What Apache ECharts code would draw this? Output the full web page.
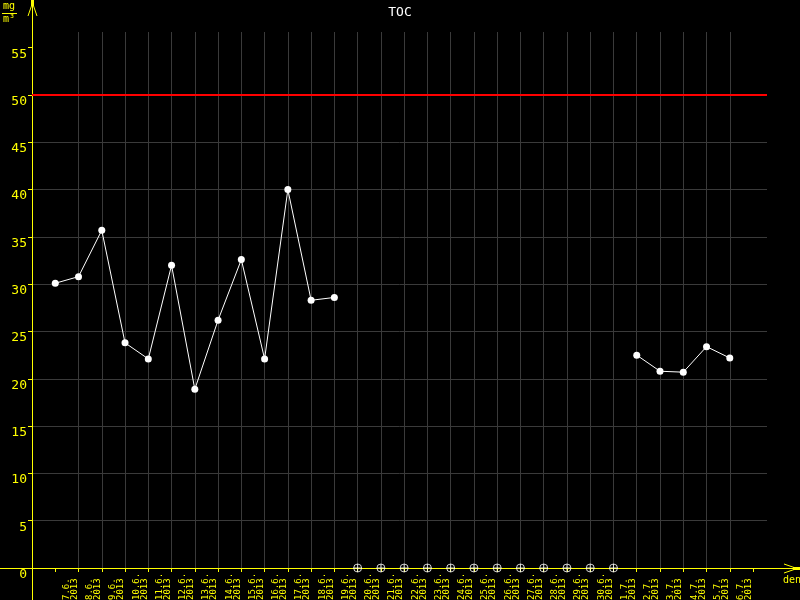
<!DOCTYPE html>
<html>
<head>
<meta charset="utf-8">
<script src="https://cdn.jsdelivr.net/npm/echarts@6/dist/echarts.min.js"></script>
<style>
  html, body {margin: 0; padding: 0; background: #000;}
  #chart {width: 800px; height: 600px;}
</style>
</head>
<body>
<div id="chart"></div>
<script>
// dates on the x axis (all 2013)
const days = ['7.6.', '8.6.', '9.6.', '10.6.', '11.6.', '12.6.', '13.6.', '14.6.', '15.6.', '16.6.',
  '17.6.', '18.6.', '19.6.', '20.6.', '21.6.', '22.6.', '23.6.', '24.6.', '25.6.', '26.6.',
  '27.6.', '28.6.', '29.6.', '30.6.', '1.7.', '2.7.', '3.7.', '4.7.', '5.7.', '6.7.'];
const year = '2013';
// TOC in mg/m3, null = no measurement
const toc = [30.1, 30.8, 35.7, 23.8, 22.1, 32.0, 18.9, 26.2, 32.6, 22.1, 40.0, 28.3, 28.6,
  null, null, null, null, null, null, null, null, null, null, null, null,
  22.5, 20.8, 20.7, 23.4, 22.2];
const limit = 50;
const yTicks = [0, 5, 10, 15, 20, 25, 30, 35, 40, 45, 50, 55];

const yellow = '#ffff00';
const mono = 'DejaVu Sans Mono';

const xTicks = days.map((d, i) => i + 1).concat([days.length + 1]);
const xLabelPos = days.map((d, i) => i + 1.65);
const lineData = toc.map((v, i) => [i + 1, v]);
const missing = toc.map((v, i) => v == null ? [i + 1, 0] : null).filter(d => d);

const chart = echarts.init(document.getElementById('chart'));
chart.setOption({
  backgroundColor: '#000',
  animation: false,
  title: {
    text: 'TOC',
    left: 'center',
    top: 1,
    textStyle: {color: '#fff', fontSize: 13, fontWeight: 'normal', fontFamily: mono}
  },
  grid: {left: 32, top: 32, right: 33, bottom: 32, outerBoundsMode: 'none'},
  xAxis: {
    type: 'value',
    min: 0,
    max: 31.6,
    interval: 1,
    axisLine: {show: true, lineStyle: {color: yellow, width: 1}},
    axisTick: {show: true, length: 4, customValues: xTicks, lineStyle: {color: yellow}},
    axisLabel: {
      customValues: xLabelPos,
      rotate: 90,
      align: 'left',
      verticalAlign: 'middle',
      margin: 32,
      color: yellow,
      fontSize: 9,
      lineHeight: 8,
      fontFamily: mono,
      formatter: v => days[Math.floor(v) - 1] + '\n' + year
    },
    splitLine: {show: true, showMinLine: false, showMaxLine: false, lineStyle: {color: '#3a3a3a', width: 1}}
  },
  yAxis: {
    type: 'value',
    min: 0,
    max: 56.66,
    interval: 5,
    axisLine: {show: true, lineStyle: {color: yellow, width: 1}},
    axisTick: {show: true, length: 4, customValues: yTicks, lineStyle: {color: yellow}},
    axisLabel: {
      customValues: yTicks,
      color: yellow,
      fontSize: 13,
      fontFamily: mono,
      margin: 5,
      verticalAlign: 'top'
    },
    splitLine: {show: true, showMinLine: false, showMaxLine: false, lineStyle: {color: '#3a3a3a', width: 1}}
  },
  series: [
    {
      type: 'line',
      data: lineData,
      connectNulls: false,
      symbol: 'circle',
      symbolSize: 7,
      lineStyle: {color: '#fff', width: 1},
      itemStyle: {color: '#fff'},
      z: 4,
      markLine: {
        silent: true,
        symbol: 'none',
        label: {show: false},
        lineStyle: {color: '#ff0000', width: 2, type: 'solid'},
        data: [{yAxis: limit}]
      }
    },
    {
      type: 'scatter',
      data: missing,
      symbol: 'path://M0,-4A4,4 0 1,1 0,4A4,4 0 1,1 0,-4ZM-4,0L4,0M0,-4L0,4',
      symbolSize: 8,
      itemStyle: {color: 'none', borderColor: '#fff', borderWidth: 1},
      z: 5
    }
  ],
  graphic: [
    // long axis lines with arrows
    {type: 'line', z: 3, shape: {x1: 32.5, y1: 0, x2: 32.5, y2: 600}, style: {stroke: yellow, lineWidth: 1}},
    {type: 'line', z: 3, shape: {x1: 0, y1: 568.5, x2: 797, y2: 568.5}, style: {stroke: yellow, lineWidth: 1}},
    {type: 'polyline', z: 3, shape: {points: [[28, 16], [32.5, 3], [37, 16]]}, style: {stroke: yellow, lineWidth: 1, fill: null}},
    {type: 'rect', z: 3, shape: {x: 31, y: 0, width: 3, height: 6}, style: {fill: yellow}},
    {type: 'polyline', z: 3, shape: {points: [[784, 564], [797, 568.5], [784, 573]]}, style: {stroke: yellow, lineWidth: 1, fill: null}},
    {type: 'rect', z: 3, shape: {x: 793, y: 567, width: 7, height: 3}, style: {fill: yellow}},
    {type: 'text', z: 3, left: 783, top: 575, style: {text: 'den', fill: yellow, fontSize: 10, fontFamily: mono}},
    // unit mg/m3
    {type: 'text', z: 3, left: 3, top: 1, style: {text: 'mg', fill: yellow, fontSize: 10, fontFamily: mono}},
    {type: 'line', z: 3, shape: {x1: 2, y1: 13.5, x2: 17, y2: 13.5}, style: {stroke: yellow, lineWidth: 1}},
    {type: 'text', z: 3, left: 3, top: 14, style: {text: 'm³', fill: yellow, fontSize: 10, fontFamily: mono}}
  ]
});
</script>
</body>
</html>
